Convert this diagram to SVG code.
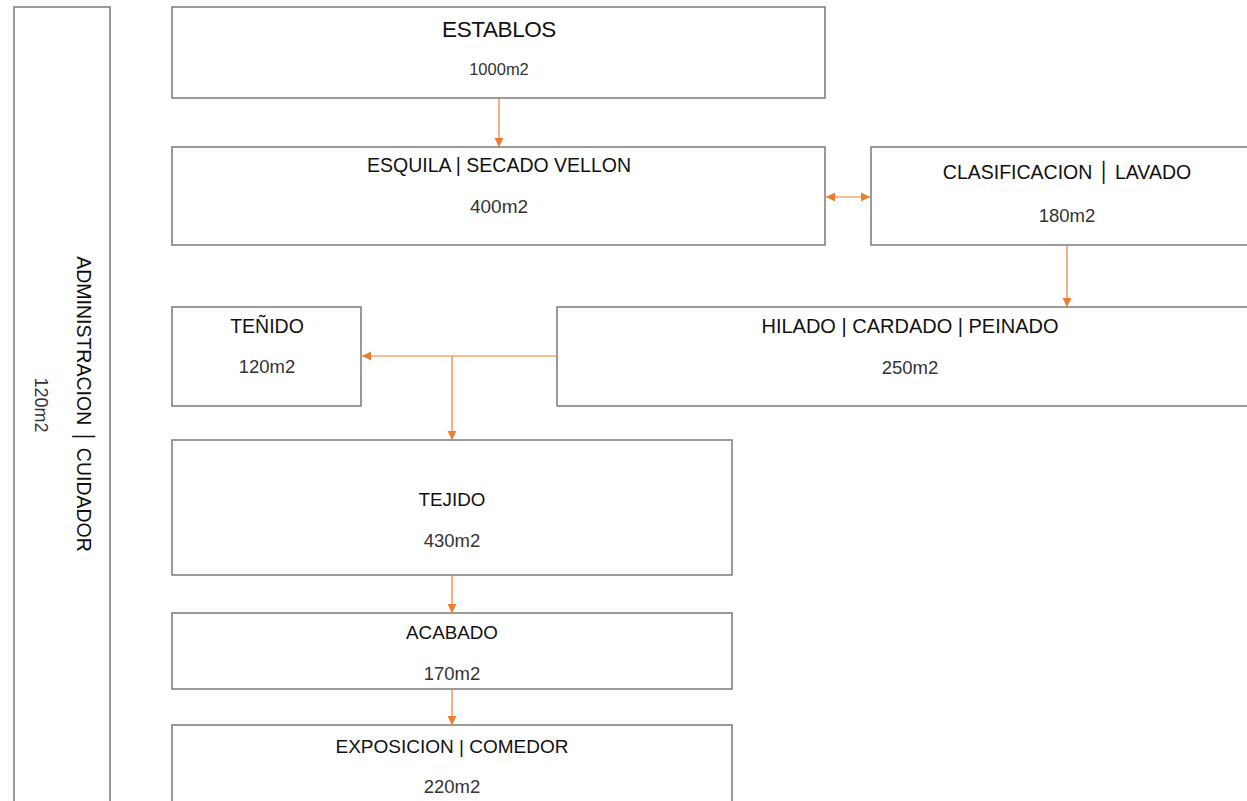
<svg xmlns="http://www.w3.org/2000/svg" width="1247" height="801" viewBox="0 0 1247 801">
<style>
.box{fill:#fff;stroke:#7a7a7a;stroke-width:1.5}
.t{font-family:"Liberation Sans",Arial,sans-serif;fill:#111;text-anchor:middle}
.a{font-family:"Liberation Sans",Arial,sans-serif;fill:#333;text-anchor:middle}
.bar{font-family:"DejaVu Sans",sans-serif}
.c{fill:none;stroke:#ED7D31;stroke-width:1.2}
</style>
<defs>
<marker id="ah" markerWidth="10" markerHeight="10" refX="9" refY="5" orient="auto-start-reverse" markerUnits="userSpaceOnUse">
<path d="M0,0.5 L9,5 L0,9.5 Z" fill="#ED7D31"/>
</marker>
</defs>
<rect width="1247" height="801" fill="#fff"/>
<g id="admin">
<rect class="box" x="14" y="7" width="96" height="810"/>
<text class="t" font-size="19.5" transform="translate(77,404) rotate(90)">ADMINISTRACION <tspan class="bar">│</tspan> CUIDADOR</text>
<text class="a" font-size="18" transform="translate(35,405) rotate(90)">120m2</text>
</g>
<g id="establos">
<rect class="box" x="172" y="7" width="653" height="91"/>
<text class="t" x="499" y="37" font-size="22.5" letter-spacing="-0.4">ESTABLOS</text>
<text class="a" x="499" y="75" font-size="16.5">1000m2</text>
</g>
<g id="esquila">
<rect class="box" x="172" y="147" width="653" height="98"/>
<text class="t" x="499" y="172" font-size="19.5">ESQUILA | SECADO VELLON</text>
<text class="a" x="499" y="213" font-size="19">400m2</text>
</g>
<g id="clasificacion">
<rect class="box" x="871" y="147" width="390" height="98"/>
<text class="t" x="1067" y="179" font-size="19.5">CLASIFICACION <tspan class="bar">│</tspan> LAVADO</text>
<text class="a" x="1067" y="222" font-size="18.5">180m2</text>
</g>
<g id="hilado">
<rect class="box" x="557" y="307" width="704" height="99"/>
<text class="t" x="910" y="333" font-size="20">HILADO | CARDADO | PEINADO</text>
<text class="a" x="910" y="374" font-size="18.5">250m2</text>
</g>
<g id="tenido">
<rect class="box" x="172" y="307" width="189" height="99"/>
<text class="t" x="267" y="333" font-size="19.5">TEÑIDO</text>
<text class="a" x="267" y="373" font-size="18.5">120m2</text>
</g>
<g id="tejido">
<rect class="box" x="172" y="440" width="560" height="135"/>
<text class="t" x="452" y="506" font-size="18.8">TEJIDO</text>
<text class="a" x="452" y="547" font-size="18.5">430m2</text>
</g>
<g id="acabado">
<rect class="box" x="172" y="613" width="560" height="76"/>
<text class="t" x="452" y="639" font-size="18.8">ACABADO</text>
<text class="a" x="452" y="680" font-size="18.5">170m2</text>
</g>
<g id="exposicion">
<rect class="box" x="172" y="725" width="560" height="100"/>
<text class="t" x="452" y="753" font-size="19">EXPOSICION | COMEDOR</text>
<text class="a" x="452" y="793" font-size="18.5">220m2</text>
</g>
<g id="connectors">
<path class="c" d="M499,98 V147" marker-end="url(#ah)"/>
<path class="c" d="M826,197 H870" marker-start="url(#ah)" marker-end="url(#ah)"/>
<path class="c" d="M1067,245 V307" marker-end="url(#ah)"/>
<path class="c" d="M557,356 H362" marker-end="url(#ah)"/>
<path class="c" d="M452,356 V440" marker-end="url(#ah)"/>
<path class="c" d="M452,575 V613" marker-end="url(#ah)"/>
<path class="c" d="M452,689 V725" marker-end="url(#ah)"/>
</g>
</svg>
